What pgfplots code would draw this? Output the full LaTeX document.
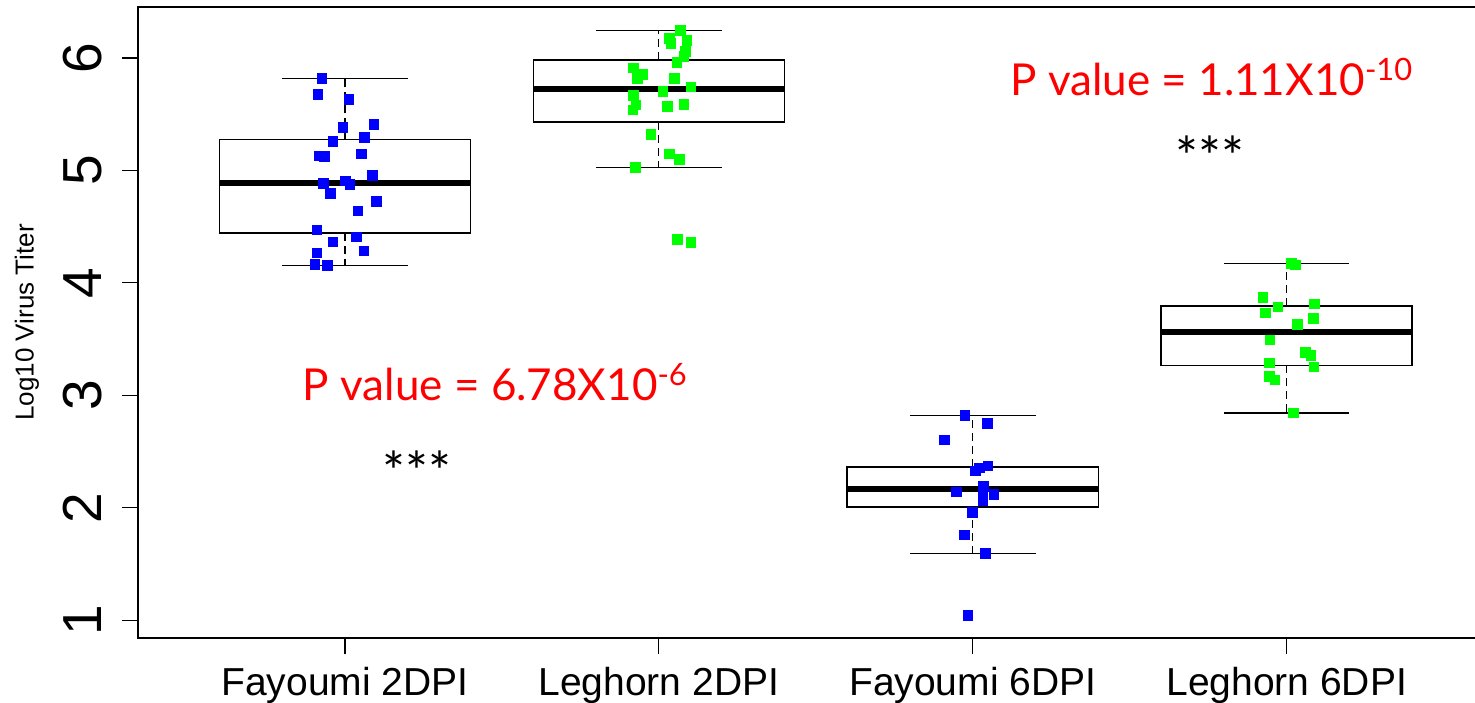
\documentclass[border=0pt]{standalone}
\usepackage{pgfplots}
\pgfplotsset{compat=1.18}
\usepgfplotslibrary{statistics}
\usepackage{fontspec}
\setmainfont{Liberation Sans}
\newfontfamily\pfont{Lato}
\definecolor{rblue}{RGB}{0,0,255}
\definecolor{rgreen}{RGB}{0,255,0}
\definecolor{rred}{RGB}{255,0,0}

\pgfplotsset{
  boxplot/draw direction=y,
  boxplot/draw/lower whisker/.code={%
    \draw[dash pattern=on 4pt off 2.5pt, line width=0.6pt]
      (boxplot cs:\pgfplotsboxplotvalue{lower quartile}) -- (boxplot cs:\pgfplotsboxplotvalue{lower whisker});
    \draw[line width=0.75pt]
      (boxplot whisker cs:\pgfplotsboxplotvalue{lower whisker},0) -- (boxplot whisker cs:\pgfplotsboxplotvalue{lower whisker},1);
  },
  boxplot/draw/upper whisker/.code={%
    \draw[dash pattern=on 4pt off 2.5pt, line width=0.6pt]
      (boxplot cs:\pgfplotsboxplotvalue{upper quartile}) -- (boxplot cs:\pgfplotsboxplotvalue{upper whisker});
    \draw[line width=0.75pt]
      (boxplot whisker cs:\pgfplotsboxplotvalue{upper whisker},0) -- (boxplot whisker cs:\pgfplotsboxplotvalue{upper whisker},1);
  },
  boxplot/every median/.style={line width=3pt},
  boxplot/box extend=0.8,
  boxplot/whisker extend=0.4,
}

\begin{document}
\begin{tikzpicture}
\begin{axis}[
  scale only axis, width=668.6pt, height=315.8pt,
  xmin=0.34, xmax=4.6, ymin=0.84, ymax=6.456,
  axis line style={draw=none},
  clip=false,
  tick pos=left, tick align=outside,
  major tick length=8pt,
  every tick/.style={draw=black, line width=0.6pt},
  xtick={1,2,3,4},
  xticklabels={Fayoumi 2DPI, Leghorn 2DPI, Fayoumi 6DPI, Leghorn 6DPI},
  ytick={1,2,3,4,5,6},
  /pgf/number format/assume math mode=true,
  xticklabel style={font=\fontsize{19.5}{20}\selectfont, inner sep=0pt, yshift=-6.5pt},
  yticklabel style={font=\fontsize{27.5}{28}\selectfont, xshift=-9.9pt, rotate=90, anchor=south, inner sep=0pt},
  ylabel={Log10 Virus Titer},
  every axis y label/.style={at={(axis description cs:-0.0829,0.5)}, rotate=90, anchor=center, font=\fontsize{13}{14}\selectfont},
]
\addplot[black, line width=0.75pt, boxplot prepared={draw position=1, lower whisker=4.156, lower quartile=4.443, median=4.89, upper quartile=5.277, upper whisker=5.819}] coordinates {};
\addplot[black, line width=0.75pt, boxplot prepared={draw position=2, lower whisker=5.028, lower quartile=5.431, median=5.721, upper quartile=5.982, upper whisker=6.243}] coordinates {};
\addplot[black, line width=0.75pt, boxplot prepared={draw position=3, lower whisker=1.593, lower quartile=2.008, median=2.163, upper quartile=2.361, upper whisker=2.821}] coordinates {};
\addplot[black, line width=0.75pt, boxplot prepared={draw position=4, lower whisker=2.844, lower quartile=3.266, median=3.560, upper quartile=3.794, upper whisker=4.173}] coordinates {};

\addplot[only marks, color=rblue, mark=square*, mark size=2.4pt, mark options={draw=rblue, fill=rblue, line width=0pt}] coordinates {
(0.927,5.816) (0.914,5.673) (1.013,5.633) (0.994,5.383) (1.092,5.407) (0.962,5.259)
(1.063,5.294) (0.917,5.128) (0.935,5.122) (1.053,5.146) (1.087,4.953) (0.932,4.882)
(1.001,4.906) (1.016,4.873) (0.954,4.796) (1.100,4.725) (1.042,4.639) (0.911,4.470)
(1.036,4.407) (0.962,4.363) (0.911,4.265) (1.060,4.283) (0.904,4.161) (0.945,4.156)
};
\addplot[only marks, color=rgreen, mark=square*, mark size=2.4pt, mark options={draw=rgreen, fill=rgreen, line width=0pt}] coordinates {
(2.069,6.243) (2.034,6.175) (2.039,6.131) (2.090,6.154) (2.084,6.056) (2.080,6.012)
(2.058,5.958) (1.920,5.911) (1.949,5.855) (1.932,5.819) (2.050,5.819) (2.102,5.742)
(2.013,5.700) (1.919,5.665) (1.927,5.582) (1.917,5.537) (2.028,5.570) (2.080,5.588)
(1.975,5.321) (2.033,5.146) (2.066,5.099) (1.925,5.028) (2.060,4.387) (2.102,4.357)
};
\addplot[only marks, color=rblue, mark=square*, mark size=2.4pt, mark options={draw=rblue, fill=rblue, line width=0pt}] coordinates {
(2.975,2.821) (3.047,2.750) (2.910,2.604) (3.049,2.373) (3.022,2.355) (3.008,2.326)
(3.034,2.189) (2.949,2.142) (3.068,2.121) (3.033,2.103) (3.033,2.059) (2.999,1.958)
(2.974,1.759) (3.041,1.593) (2.985,1.042)
};
\addplot[only marks, color=rgreen, mark=square*, mark size=2.4pt, mark options={draw=rgreen, fill=rgreen, line width=0pt}] coordinates {
(4.016,4.173) (4.028,4.158) (3.924,3.871) (3.972,3.787) (4.089,3.811) (3.932,3.734)
(4.085,3.684) (4.035,3.631) (3.947,3.494) (4.060,3.382) (4.077,3.355) (3.946,3.289)
(4.087,3.251) (3.945,3.168) (3.963,3.138) (4.021,2.844)
};

\draw[line width=1pt] (rel axis cs:1,1) -- (rel axis cs:0,1) -- (rel axis cs:0,0) -- (rel axis cs:1,0);

\node[anchor=base west, inner sep=0pt, text=rred, font=\pfont\fontsize{22}{24}\selectfont] at (axis cs:0.865,2.957) {P value = 6.78X10\textsuperscript{-6}};
\node[anchor=base west, inner sep=0pt, text=rred, font=\pfont\fontsize{22}{24}\selectfont] at (axis cs:3.119,5.662) {P value = 1.11X10\textsuperscript{-10}};
\node[inner sep=0pt, font=\pfont\fontsize{27}{28}\selectfont] at (axis cs:1.229,2.33) {***};
\node[inner sep=0pt, font=\pfont\fontsize{27}{28}\selectfont] at (axis cs:3.756,5.13) {***};

\coordinate (bl) at (rel axis cs:0,0);
\coordinate (tr) at (rel axis cs:1,1);
\end{axis}
\pgfresetboundingbox
\path ([xshift=-68.9pt, yshift=-32.35pt]bl) rectangle ([yshift=3.35pt]tr);
\end{tikzpicture}
\end{document}
